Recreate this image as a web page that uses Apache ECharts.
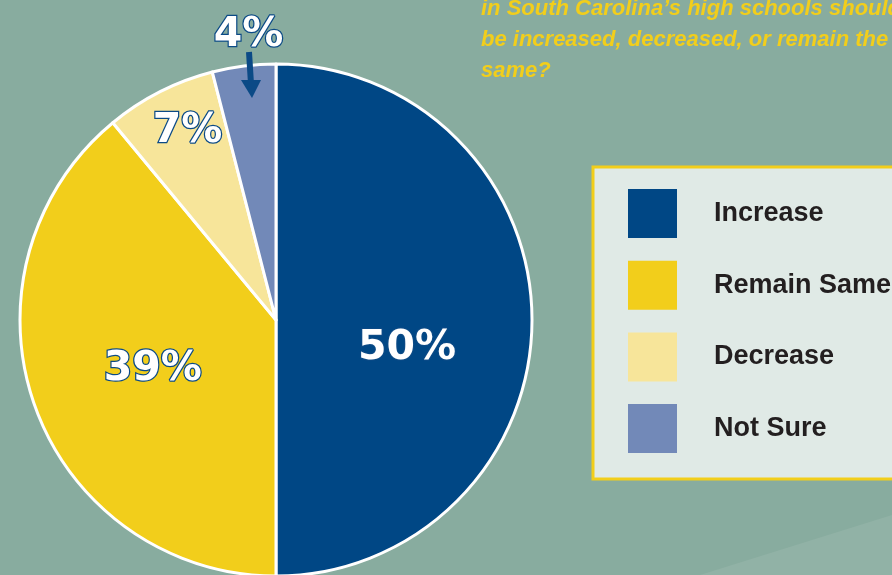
<!DOCTYPE html>
<html style="height: 100%">
<head>
    <meta charset="utf-8">
    <script type="text/javascript" src="https://cdn.jsdelivr.net/npm/echarts@6.0.0/dist/echarts.min.js"></script>
</head>
<body style="height: 100%; margin: 0; background-color: #88AC9F;">
    <div id="main" style="width: 892px; height: 575px;"></div>
<script>
// 数据
var categories = ['Increase', 'Remain Same', 'Decrease', 'Not Sure'];
var percents = [50, 39, 7, 4];
var colors = ['#004785', '#F2CE1B', '#F7E59A', '#7289B8'];
var questionLines = [
    "in South Carolina\u2019s high schools should",
    'be increased, decreased, or remain the',
    'same?'
];

// label offsets from the default inside position
var labelShift = [[0, 28], [0, 5], [-29, -72], [-11, -155]];

var chartDom = document.getElementById('main');
var myChart = echarts.init(chartDom);
var option;

option = {
    backgroundColor: '#88AC9F',
    animation: false,
    title: {
        text: questionLines.join('\n'),
        left: 476,
        top: -12,
        textStyle: {
            fontFamily: 'Arial',
            fontStyle: 'italic',
            fontWeight: 'bold',
            fontSize: 22,
            lineHeight: 31,
            color: '#F2CE1B',
            textShadowColor: '#1d3a5c',
            textShadowOffsetX: 1.5,
            textShadowOffsetY: 1.5,
            textShadowBlur: 0
        }
    },
    legend: {
        orient: 'vertical',
        left: 593,
        top: 167,
        data: categories,
        icon: 'rect',
        itemWidth: 49,
        itemHeight: 49,
        itemGap: 22.7,
        padding: [22, 120, 26, 35],
        backgroundColor: '#E0EAE6',
        borderColor: '#F2CE1B',
        borderWidth: 3,
        selectedMode: false,
        itemStyle: { borderWidth: 0 },
        textStyle: {
            fontFamily: 'Arial',
            fontWeight: 'bold',
            fontSize: 27,
            color: '#231F20',
            padding: [0, 0, 0, 32]
        }
    },
    graphic: [
        {   // lighter band at bottom right
            type: 'polygon',
            z: -10,
            shape: { points: [[700, 575], [892, 515], [892, 575]] },
            style: { fill: '#91B2A6' }
        },
        {   // arrow pointing into the small slice
            type: 'line',
            z: 100,
            shape: { x1: 249, y1: 52, x2: 251, y2: 84 },
            style: { stroke: '#0B4A86', lineWidth: 6 }
        },
        {
            type: 'polygon',
            z: 100,
            shape: { points: [[241, 80], [261, 80], [252, 98]] },
            style: { fill: '#0B4A86' }
        }
    ],
    series: [
        {
            type: 'pie',
            center: [276, 320],
            radius: [0, 256],
            startAngle: 90,
            clockwise: true,
            data: categories.map(function (name, i) {
                return {
                    name: name,
                    value: percents[i],
                    itemStyle: { color: colors[i] }
                };
            }),
            itemStyle: {
                borderColor: '#ffffff',
                borderWidth: 3
            },
            label: {
                show: true,
                position: 'inside',
                formatter: '{c}%',
                fontFamily: 'DejaVu Sans',
                fontWeight: 'bold',
                fontSize: 41,
                color: '#ffffff',
                textBorderColor: '#0B4A86',
                textBorderWidth: 2.5
            },
            labelLine: { show: false },
            labelLayout: function (params) {
                var s = labelShift[params.dataIndex];
                return { dx: s[0], dy: s[1] };
            },
            emphasis: { disabled: true }
        }
    ]
};

option && myChart.setOption(option);
</script>
</body>
</html>
